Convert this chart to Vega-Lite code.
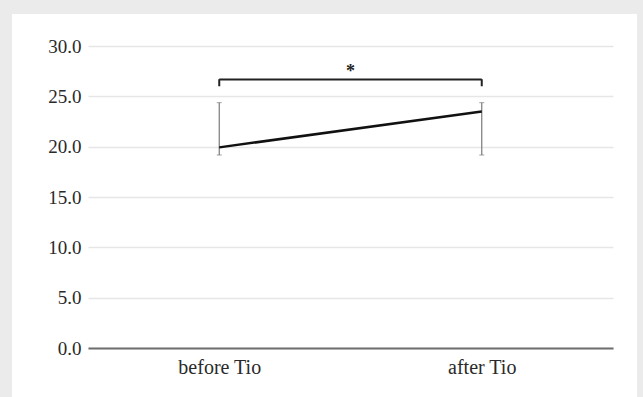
{
  "$schema": "https://vega.github.io/schema/vega-lite/v6.json",
  "width": 525,
  "height": 302,
  "autosize": {"type": "none"},
  "padding": {"left": 88, "top": 46, "right": 30, "bottom": 49},
  "background": "white",
  "config": {
    "view": {"stroke": null},
    "font": "Liberation Serif",
    "axis": {"labelFont": "Liberation Serif", "labelFontSize": 19, "labelColor": "#2a2a2a"}
  },
  "data": {
    "values": [
      {"group": "before Tio", "mean": 19.93, "low": 19.17, "high": 24.37},
      {"group": "after Tio", "mean": 23.5, "low": 19.17, "high": 24.37}
    ]
  },
  "resolve": {"scale": {"x": "independent"}},
  "layer": [
    {
      "mark": {"type": "rule", "color": "#7a7a7a", "strokeWidth": 1.2},
      "encoding": {
        "x": {"field": "group", "type": "nominal", "sort": null, "scale": {"type": "point", "padding": 0.5, "domain": ["before Tio", "after Tio"]}, "axis": null},
        "y": {"field": "low", "type": "quantitative", "title": null, "scale": {"domain": [0, 30]},
          "axis": {"values": [0, 5, 10, 15, 20, 25, 30], "format": ".1f", "domain": false, "ticks": false, "labelPadding": 7, "grid": true, "gridColor": "#e6e6e6", "gridWidth": 1.5}},
        "y2": {"field": "high"}
      }
    },
    {
      "mark": {"type": "tick", "color": "#7a7a7a", "size": 5, "thickness": 1},
      "encoding": {
        "x": {"field": "group", "type": "nominal", "sort": null, "scale": {"type": "point", "padding": 0.5, "domain": ["before Tio", "after Tio"]}, "axis": null},
        "y": {"field": "low", "type": "quantitative", "title": null}
      }
    },
    {
      "mark": {"type": "tick", "color": "#7a7a7a", "size": 5, "thickness": 1},
      "encoding": {
        "x": {"field": "group", "type": "nominal", "sort": null, "scale": {"type": "point", "padding": 0.5, "domain": ["before Tio", "after Tio"]}, "axis": null},
        "y": {"field": "high", "type": "quantitative", "title": null}
      }
    },
    {
      "mark": {"type": "line", "color": "#111111", "strokeWidth": 2.5},
      "encoding": {
        "x": {"field": "group", "type": "nominal", "sort": null, "scale": {"type": "point", "padding": 0.5, "domain": ["before Tio", "after Tio"]},
          "title": null,
          "axis": {"labelAngle": 0, "labelPadding": 9, "labelFontSize": 20, "ticks": false, "domain": true, "domainColor": "#6e6e6e", "domainWidth": 2, "grid": false}},
        "y": {"field": "mean", "type": "quantitative", "title": null}
      }
    },
    {
      "data": {"values": [{"a": "before Tio", "b": "after Tio", "yb": 26.66}]},
      "mark": {"type": "rule", "color": "#222222", "strokeWidth": 2},
      "encoding": {
        "x": {"field": "a", "type": "nominal", "scale": {"type": "point", "padding": 0.5, "domain": ["before Tio", "after Tio"]}, "axis": null},
        "x2": {"field": "b"},
        "y": {"field": "yb", "type": "quantitative", "title": null}
      }
    },
    {
      "mark": {"type": "rule", "color": "#222222", "strokeWidth": 2},
      "encoding": {
        "x": {"field": "group", "type": "nominal", "sort": null, "scale": {"type": "point", "padding": 0.5, "domain": ["before Tio", "after Tio"]}, "axis": null},
        "y": {"datum": 26.0, "type": "quantitative", "title": null},
        "y2": {"datum": 26.7}
      }
    },
    {
      "data": {"values": [{"pos": 0.5, "yv": 26.95, "label": "*"}]},
      "mark": {"type": "text", "fontSize": 18, "color": "#222222", "baseline": "alphabetic", "align": "center", "fontWeight": "bold"},
      "encoding": {
        "x": {"field": "pos", "type": "quantitative", "scale": {"domain": [0, 1]}, "axis": null},
        "y": {"field": "yv", "type": "quantitative", "title": null},
        "text": {"field": "label"}
      }
    },
    {
      "mark": {"type": "rect", "fill": "#ebebeb"},
      "encoding": {
        "x": {"datum": -0.2, "type": "quantitative", "scale": {"domain": [0, 1]}, "axis": null},
        "x2": {"datum": -0.1448},
        "y": {"datum": 36, "type": "quantitative", "title": null},
        "y2": {"datum": -6}
      }
    },
    {
      "mark": {"type": "rect", "fill": "#ebebeb"},
      "encoding": {
        "x": {"datum": -0.2, "type": "quantitative", "scale": {"domain": [0, 1]}, "axis": null},
        "x2": {"datum": 1.1},
        "y": {"datum": 36, "type": "quantitative", "title": null},
        "y2": {"datum": 33.2}
      }
    },
    {
      "mark": {"type": "rect", "fill": "#ebebeb"},
      "encoding": {
        "x": {"datum": 1.0457, "type": "quantitative", "scale": {"domain": [0, 1]}, "axis": null},
        "x2": {"datum": 1.1},
        "y": {"datum": 36, "type": "quantitative", "title": null},
        "y2": {"datum": -6}
      }
    }
  ]
}
